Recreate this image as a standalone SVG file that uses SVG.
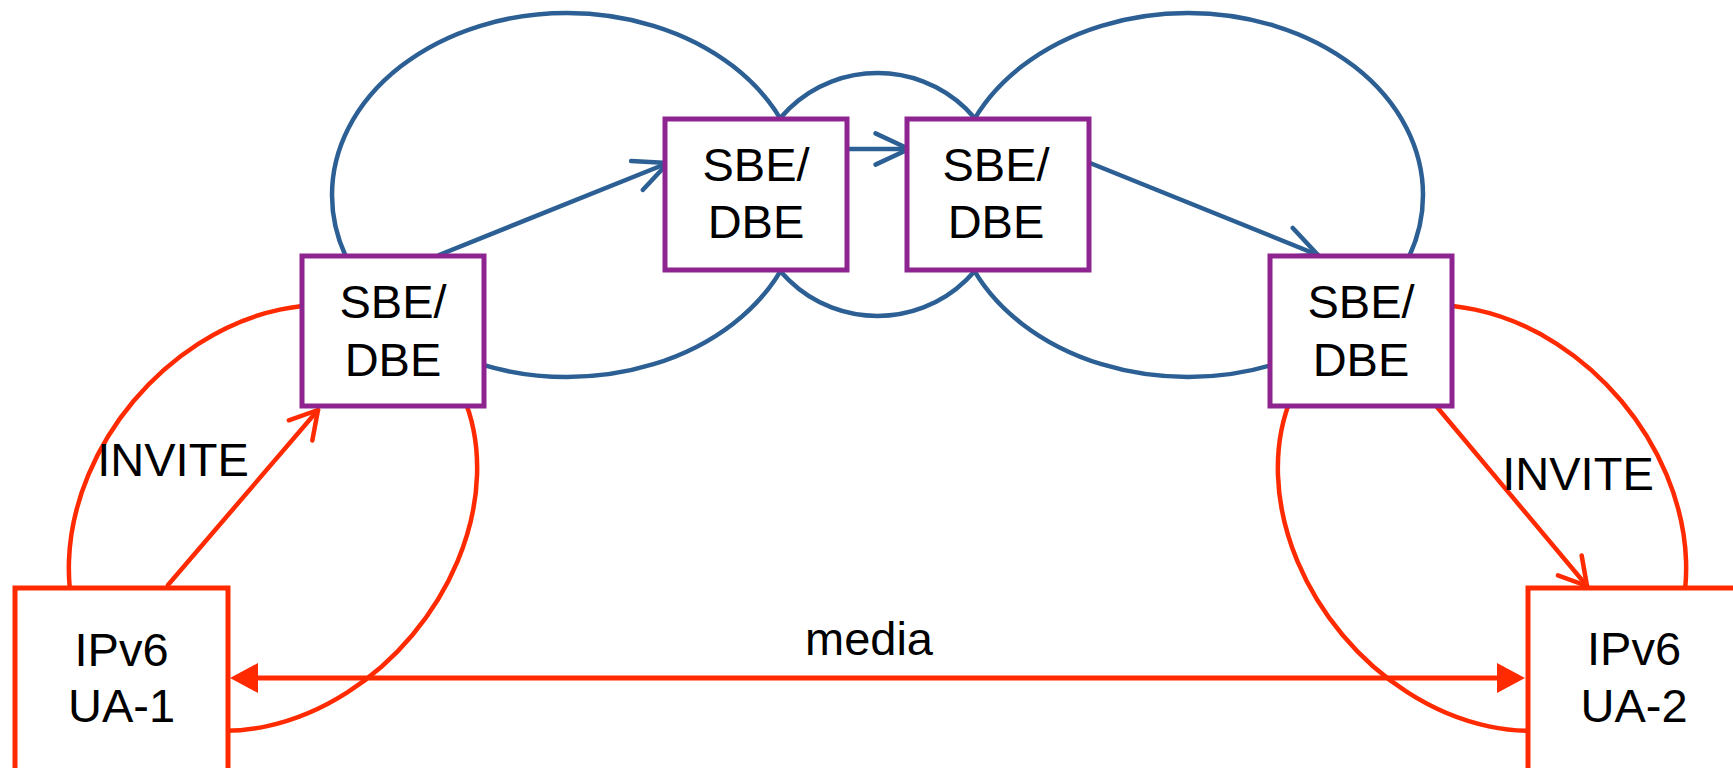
<svg xmlns="http://www.w3.org/2000/svg" width="1733" height="768" viewBox="0 0 1733 768">
  <style>
    .blue { fill: none; stroke: #2C5F94; stroke-width: 4.5; }
    .redl { fill: none; stroke: #FF2A00; stroke-width: 4.5; }
    .sbe { fill: #FFFFFF; stroke: #8E2490; stroke-width: 5; }
    .ua { fill: #FFFFFF; stroke: #FF2A00; stroke-width: 5; }
    .t { font-family: "Liberation Sans", Arial, sans-serif; font-size: 47px; fill: #000000; text-anchor: middle; }
    .barrow { fill: none; stroke: #2C5F94; stroke-width: 4.5; stroke-linecap: round; }
    .rarrow { fill: none; stroke: #FF2A00; stroke-width: 4.5; stroke-linecap: round; }
    .media { fill: none; stroke: #FF2A00; stroke-width: 5; }
  </style>
  <defs>
    <marker id="openBlue" markerUnits="userSpaceOnUse" orient="auto" markerWidth="60" markerHeight="60" refX="0" refY="0" viewBox="-40 -30 50 60" overflow="visible">
      <path d="M -33.5,-15.6 L 0,0 L -33.5,15.6" fill="none" stroke="#2C5F94" stroke-width="4.5" stroke-linecap="round" stroke-linejoin="round"/>
    </marker>
    <marker id="openRed" markerUnits="userSpaceOnUse" orient="auto" markerWidth="60" markerHeight="60" refX="0" refY="0" viewBox="-40 -30 50 60" overflow="visible">
      <path d="M -26.8,-15.5 L 0,0 L -26.8,15.5" fill="none" stroke="#FF2A00" stroke-width="4.5" stroke-linecap="round" stroke-linejoin="round"/>
    </marker>
    <marker id="solidRed" markerUnits="userSpaceOnUse" orient="auto-start-reverse" markerWidth="60" markerHeight="60" refX="0" refY="0" viewBox="-40 -30 50 60" overflow="visible">
      <path d="M 0,0 L -28,-15 L -28,15 Z" fill="#FF2A00" stroke="none"/>
    </marker>
  </defs>

  <g id="domains">
    <ellipse class="blue" cx="567" cy="195" rx="235" ry="182"/>
    <ellipse class="blue" cx="877.5" cy="194.5" rx="125" ry="121.5"/>
    <ellipse class="blue" cx="1188" cy="195" rx="235" ry="182"/>
    <ellipse class="redl" cx="0" cy="0" rx="232" ry="182" transform="translate(273 518) rotate(-50)"/>
    <ellipse class="redl" cx="0" cy="0" rx="232" ry="182" transform="translate(1482 518) rotate(50)"/>
  </g>

  <g id="connectors">
    <line class="barrow" x1="439" y1="255" x2="668" y2="163" marker-end="url(#openBlue)"/>
    <line class="barrow" x1="848" y1="149" x2="909" y2="149" marker-end="url(#openBlue)"/>
    <line class="barrow" x1="1090" y1="163" x2="1318" y2="255" marker-end="url(#openBlue)"/>
    <line class="rarrow" x1="168" y1="585" x2="318" y2="410" marker-end="url(#openRed)"/>
    <line class="rarrow" x1="1437" y1="407" x2="1587" y2="586" marker-end="url(#openRed)"/>
    <line class="media" x1="250" y1="678" x2="1505" y2="678"/>
    <line class="media" x1="230" y1="678" x2="1525" y2="678" stroke-opacity="0" marker-start="url(#solidRed)" marker-end="url(#solidRed)"/>
    <text class="t" x="173" y="476">INVITE</text>
    <text class="t" x="1578" y="490">INVITE</text>
    <text class="t" x="869" y="655">media</text>
  </g>

  <g id="sbe1">
    <rect class="sbe" x="302" y="256" width="182" height="150"/>
    <text class="t" x="393" y="318">SBE/</text>
    <text class="t" x="393" y="376">DBE</text>
  </g>
  <g id="sbe2">
    <rect class="sbe" x="665" y="119" width="182" height="151"/>
    <text class="t" x="756" y="181">SBE/</text>
    <text class="t" x="756" y="238">DBE</text>
  </g>
  <g id="sbe3">
    <rect class="sbe" x="907" y="119" width="182" height="151"/>
    <text class="t" x="996" y="181">SBE/</text>
    <text class="t" x="996" y="238">DBE</text>
  </g>
  <g id="sbe4">
    <rect class="sbe" x="1270" y="256" width="182" height="150"/>
    <text class="t" x="1361" y="318">SBE/</text>
    <text class="t" x="1361" y="376">DBE</text>
  </g>
  <g id="ua1">
    <rect class="ua" x="15" y="588" width="213" height="200"/>
    <text class="t" x="121.5" y="666">IPv6</text>
    <text class="t" x="121.5" y="722">UA-1</text>
  </g>
  <g id="ua2">
    <rect class="ua" x="1528" y="588" width="213" height="200"/>
    <text class="t" x="1634" y="665">IPv6</text>
    <text class="t" x="1634" y="722">UA-2</text>
  </g>
</svg>
